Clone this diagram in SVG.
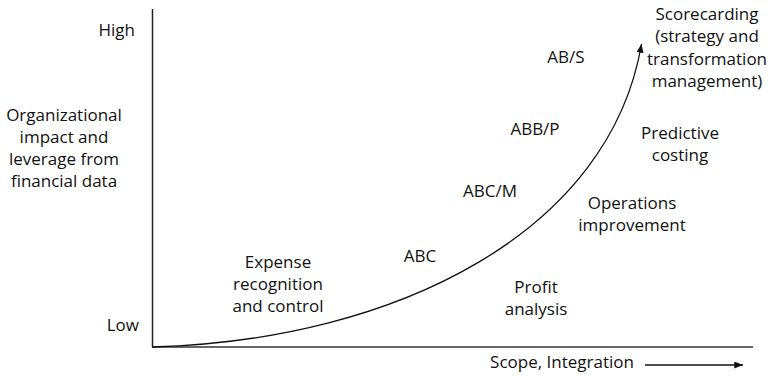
<svg xmlns="http://www.w3.org/2000/svg" width="774" height="376" viewBox="0 0 774 376">
<defs>
<marker id="ah" viewBox="0 0 10 8" refX="10" refY="4" markerWidth="9" markerHeight="7" markerUnits="userSpaceOnUse" orient="auto">
<path d="M0,0 L10,4 L0,8 Z" fill="#111"/>
</marker>
</defs>
<style>
text{font-family:"Open Sans","DejaVu Sans",sans-serif;font-size:17px;fill:#111;text-anchor:middle}
.r{text-anchor:end}
.l{text-anchor:start}
.ln{fill:none;stroke:#111;stroke-width:1.3}
</style>
<rect width="774" height="376" fill="#fff"/>
<g id="connectors">
<line x1="152.5" y1="9" x2="152.5" y2="347" stroke="#222" stroke-width="1.5"/>
<line x1="152" y1="347" x2="753" y2="347" stroke="#666" stroke-width="2"/>
<path class="ln" d="M152,347 C400,340 610,230 641.5,44" marker-end="url(#ah)"/>
<line class="ln" x1="645" y1="365" x2="743" y2="365" marker-end="url(#ah)"/>
</g>
<g id="high"><text class="r" x="135" y="36">High</text></g>
<g id="low"><text class="r" x="139" y="331">Low</text></g>
<g id="y-label">
<text x="64" y="121">Organizational</text>
<text x="64" y="143">impact and</text>
<text x="64" y="165">leverage from</text>
<text x="64" y="187">financial data</text>
</g>
<g id="x-label"><text x="562" y="368">Scope, Integration</text></g>
<g id="expense">
<text x="278" y="268">Expense</text>
<text x="278" y="290">recognition</text>
<text x="278" y="312">and control</text>
</g>
<g id="abc"><text x="420" y="262">ABC</text></g>
<g id="abcm"><text x="490" y="197">ABC/M</text></g>
<g id="abbp"><text x="535" y="135">ABB/P</text></g>
<g id="abs"><text x="566" y="63">AB/S</text></g>
<g id="profit">
<text x="536" y="293">Profit</text>
<text x="536" y="315">analysis</text>
</g>
<g id="operations">
<text x="632" y="209">Operations</text>
<text x="632" y="231">improvement</text>
</g>
<g id="predictive">
<text x="680" y="139">Predictive</text>
<text x="680" y="161">costing</text>
</g>
<g id="scorecarding">
<text x="707" y="20">Scorecarding</text>
<text x="707" y="42">(strategy and</text>
<text x="707" y="65">transformation</text>
<text x="707" y="87">management)</text>
</g>
</svg>
